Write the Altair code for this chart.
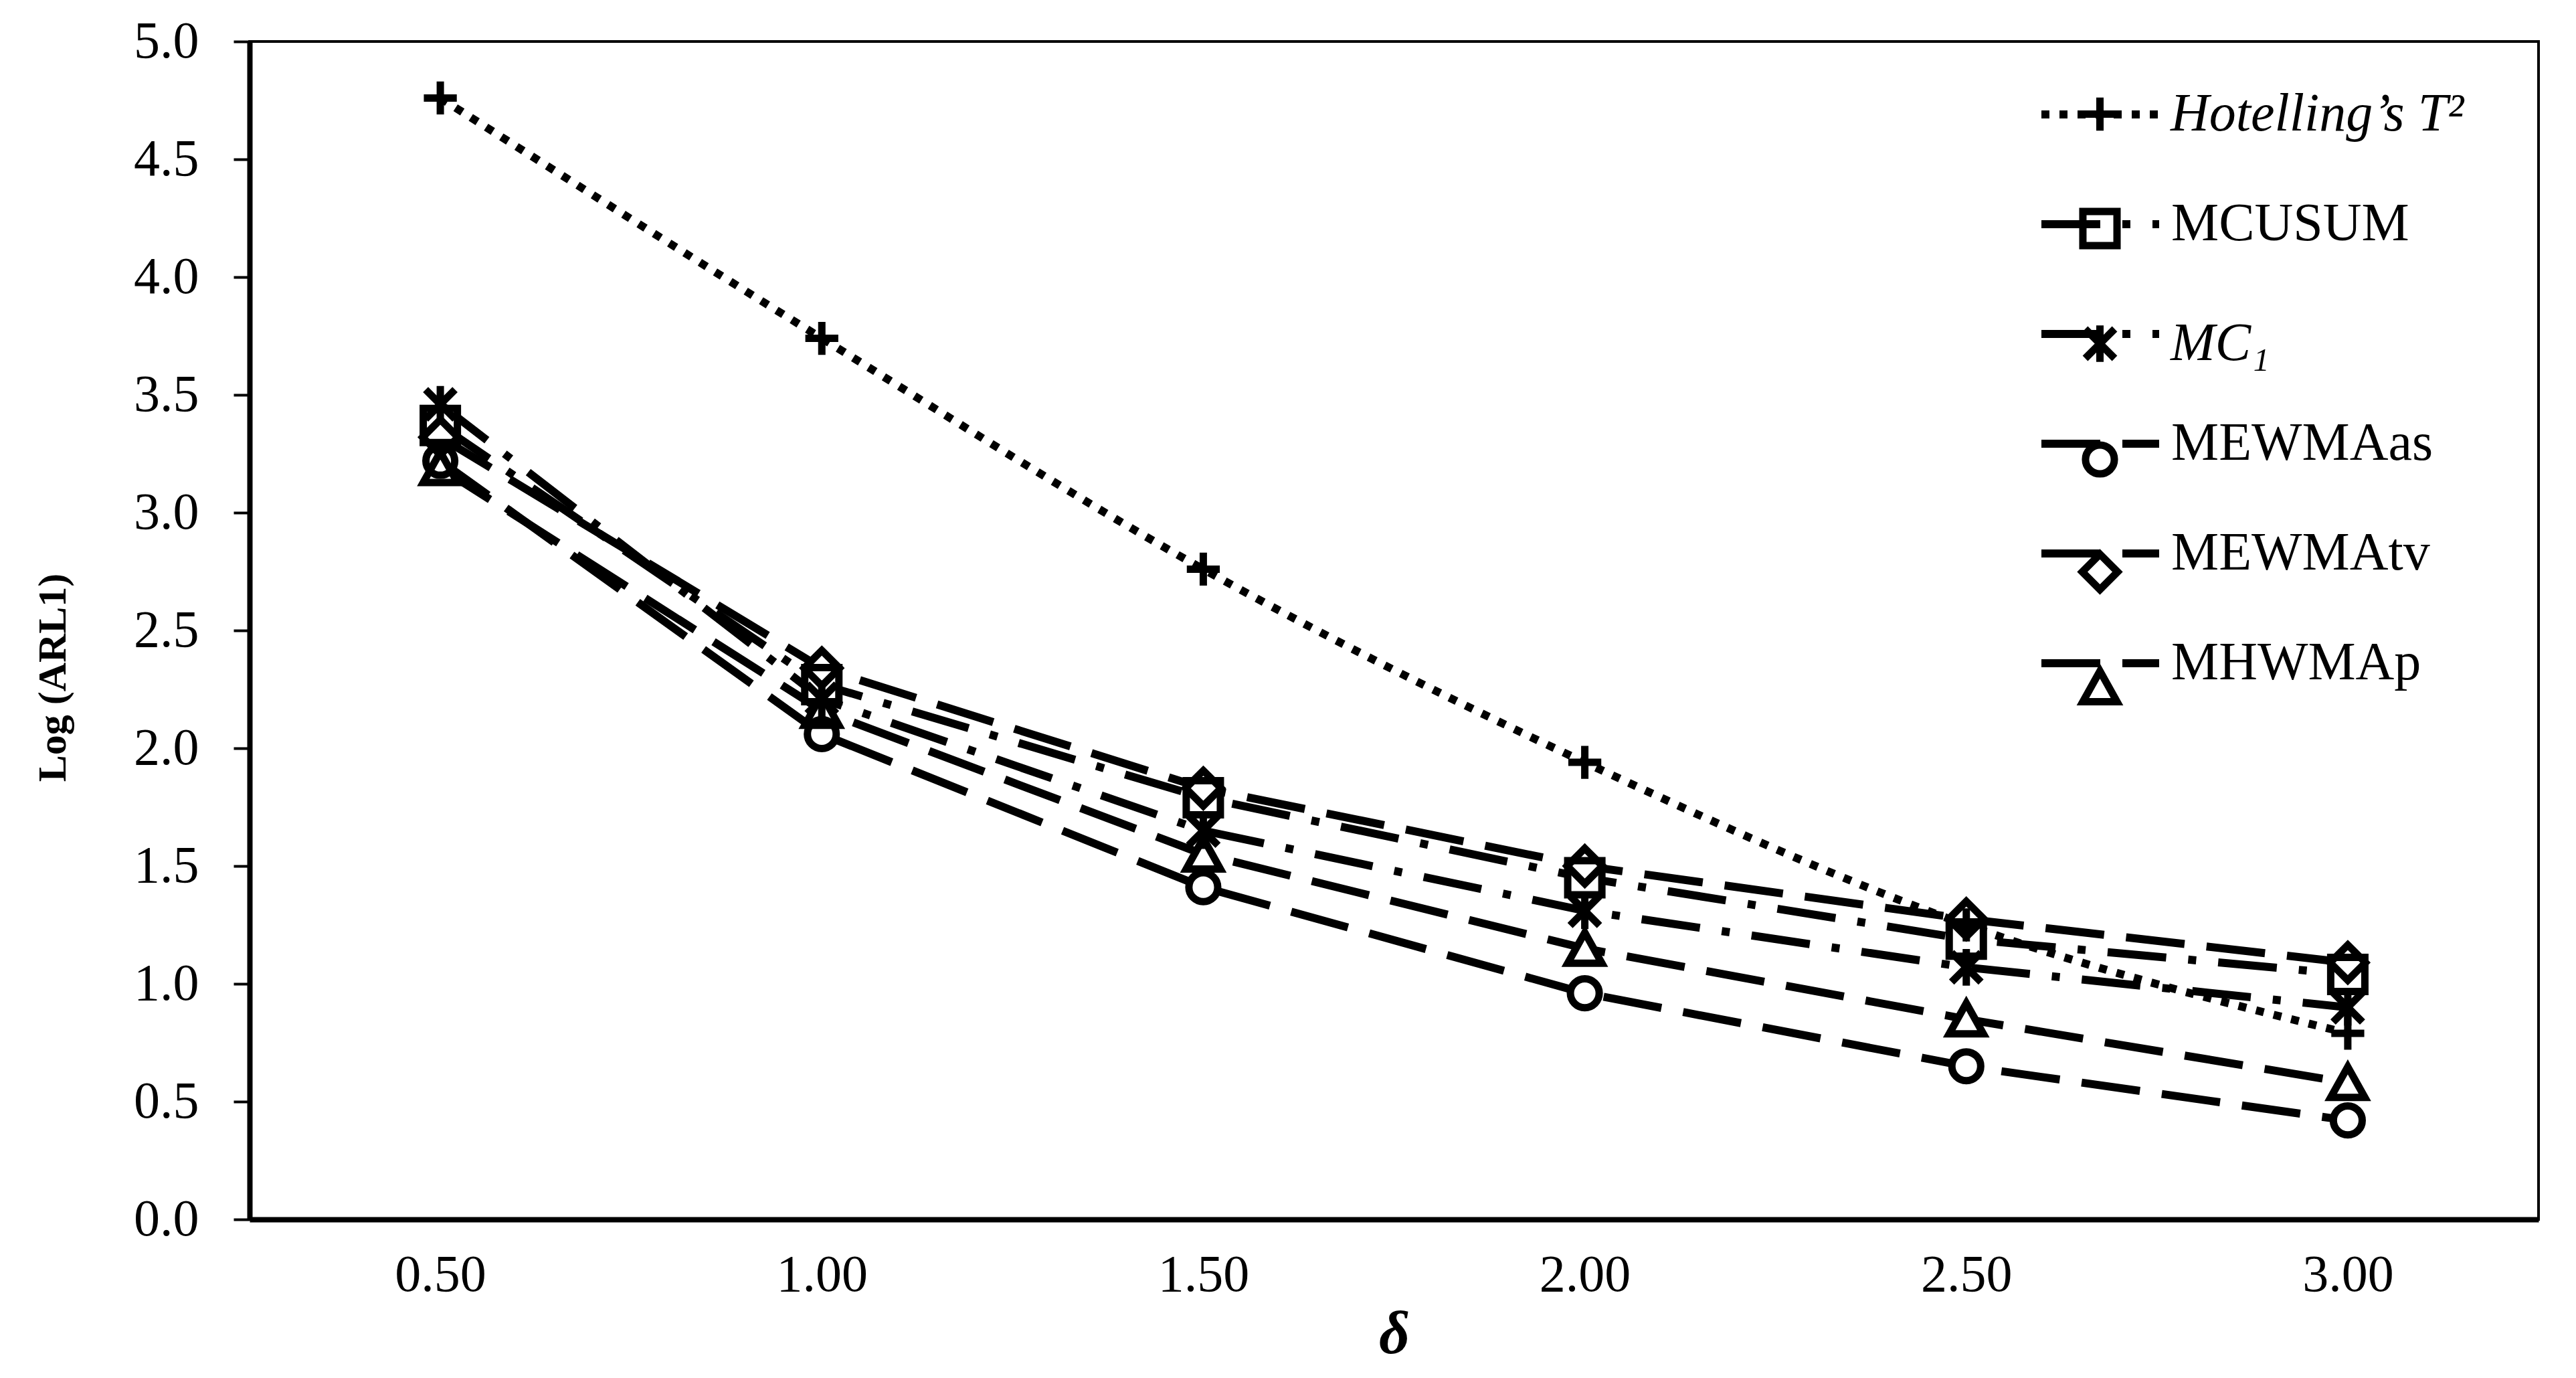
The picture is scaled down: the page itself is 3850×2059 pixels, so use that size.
import altair as alt
import pandas as pd

# ---- data ----
delta = [0.5, 1.0, 1.5, 2.0, 2.5, 3.0]
series_names = ["Hotelling’s T²", "MCUSUM", "MC₁", "MEWMAas", "MEWMAtv", "MHWMAp"]
marker_codes = ["m0", "m1", "m2", "m3", "m4", "m5"]
fill_codes = ["f0", "f1", "f2", "f3", "f4", "f5"]
italic_names = ["Hotelling’s T²", "MC₁"]
hotelling = [4.76, 3.74, 2.76, 1.94, 1.25, 0.79]
mcusum = [3.37, 2.27, 1.79, 1.45, 1.19, 1.04]
mc1 = [3.46, 2.21, 1.65, 1.31, 1.07, 0.90]
mewma_as = [3.22, 2.06, 1.41, 0.96, 0.65, 0.42]
mewma_tv = [3.32, 2.34, 1.83, 1.50, 1.275, 1.09]
mhwma_p = [3.19, 2.16, 1.55, 1.15, 0.85, 0.58]
y_ticks = [0.0, 0.5, 1.0, 1.5, 2.0, 2.5, 3.0, 3.5, 4.0, 4.5, 5.0]
x_ticks = [0.5, 1.0, 1.5, 2.0, 2.5, 3.0]

values = [hotelling, mcusum, mc1, mewma_as, mewma_tv, mhwma_p]
rows = []
for name, code, fcode, vals in zip(series_names, marker_codes, fill_codes, values):
    for d, v in zip(delta, vals):
        rows.append({"delta": d, "arl": v, "series": name, "marker": code, "fillkey": fcode})
df = pd.DataFrame(rows)

FONT = "Liberation Serif"

# line styles (dash patterns) and marker glyphs (SVG paths, unit = half the symbol box)
dash_range = [[12, 15], [88, 33, 12, 33], [88, 33, 12, 33], [88, 33], [88, 33], [88, 33]]
shape_range = [
    "M-0.28,0L0.28,0M0,-0.28L0,0.28",
    "M-0.29,-0.29L0.29,-0.29L0.29,0.29L-0.29,0.29Z",
    "M-0.25,-0.25L0.25,0.25M-0.25,0.25L0.25,-0.25M0,-0.31L0,0.31",
    "M-0.245,0A0.245,0.245,0,1,0,0.245,0A0.245,0.245,0,1,0,-0.245,0Z",
    "M0,-0.3L0.3,0L0,0.3L-0.3,0Z",
    "M0,-0.27L0.29,0.25L-0.29,0.25Z",
]
SYMBOL_BOX = 176  # legend line length in px

x_enc = alt.X(
    "delta:Q",
    scale=alt.Scale(domain=[0.25, 3.25], nice=False, zero=False),
    axis=alt.Axis(
        values=x_ticks, format=".2f", ticks=False, labelPadding=44,
        domainWidth=8, domainColor="black", labelFontSize=78, labelFont=FONT,
        labelColor="black", grid=False,
        title="δ", titleFont=FONT, titleFontSize=90, titleFontStyle="italic",
        titleFontWeight="bold", titleColor="black", titleY=172, titleBaseline="middle",
    ),
)
y_enc = alt.Y(
    "arl:Q",
    scale=alt.Scale(domain=[0, 5], nice=False, zero=True),
    axis=alt.Axis(
        values=y_ticks, format=".1f", tickSize=24, tickWidth=4, tickColor="black",
        labelPadding=52, domainWidth=8, domainColor="black", labelFontSize=78,
        labelFont=FONT, labelColor="black", grid=False,
        title="Log (ARL1)", titleFont=FONT, titleFontSize=60, titleFontWeight="bold",
        titleColor="black", titleX=-294, titleY=950, titleAlign="center",
        titleBaseline="middle", titleLimit=3000,
    ),
)

# upright names are written by the line legend, italic names by the marker legend
upright_list = "[" + ",".join("'" + n + "'" for n in series_names if n not in italic_names) + "]"
dash_label_expr = "indexof(" + upright_list + ", datum.label) >= 0 ? datum.label : ' '"
shape_label_expr = (
    "datum.label == '" + marker_codes[0] + "' ? '" + series_names[0] + "' : "
    "datum.label == '" + marker_codes[2] + "' ? '" + series_names[2] + "' : ' '"
)

LEG_X, LEG_Y, ROW_PAD, LAB_OFF = 2672, 15, 30, 12

dash_legend = alt.Legend(
    title=None, orient="none", legendX=LEG_X, legendY=LEG_Y,
    symbolType="stroke", symbolSize=SYMBOL_BOX * SYMBOL_BOX, symbolStrokeWidth=12,
    symbolStrokeColor="black",
    labelFont=FONT, labelFontSize=80, labelColor="black", labelOffset=LAB_OFF,
    labelLimit=2000, rowPadding=ROW_PAD, labelExpr=dash_label_expr,
)
shape_legend = alt.Legend(
    title=None, orient="none", legendX=LEG_X, legendY=LEG_Y,
    symbolSize=SYMBOL_BOX * SYMBOL_BOX, symbolStrokeWidth=11,
    labelFont=FONT, labelFontSize=80, labelColor="black", labelOffset=LAB_OFF,
    labelFontStyle="italic", labelLimit=2000, rowPadding=ROW_PAD,
    labelExpr=shape_label_expr,
)

dash_scale = alt.Scale(domain=series_names, range=dash_range)

base = alt.Chart(df)

hot_line = base.transform_filter(
    alt.datum.series == series_names[0]
).mark_line(color="black", strokeWidth=12, interpolate="monotone").encode(
    x=x_enc, y=y_enc,
    strokeDash=alt.StrokeDash("series:N", scale=dash_scale, legend=dash_legend),
)
other_lines = base.transform_filter(
    alt.datum.series != series_names[0]
).mark_line(color="black", strokeWidth=12).encode(
    x=x_enc, y=y_enc,
    strokeDash=alt.StrokeDash("series:N", scale=dash_scale, legend=dash_legend),
)
# white interior of the markers (no legend)
marker_fill = base.mark_point(
    filled=True, color="white", opacity=1, size=SYMBOL_BOX * SYMBOL_BOX,
).encode(
    x=x_enc, y=y_enc,
    shape=alt.Shape("fillkey:N", scale=alt.Scale(domain=fill_codes, range=shape_range), legend=None),
)
# black marker outlines (with legend)
marker_outline = base.mark_point(
    filled=False, color="black", strokeWidth=11, opacity=1,
    size=SYMBOL_BOX * SYMBOL_BOX,
).encode(
    x=x_enc, y=y_enc,
    shape=alt.Shape("marker:N", scale=alt.Scale(domain=marker_codes, range=shape_range), legend=shape_legend),
)

chart = alt.layer(hot_line, other_lines, marker_fill, marker_outline).resolve_scale(
    shape="independent"
).resolve_legend(
    shape="independent"
).properties(
    width=3421, height=1760,
    autosize=alt.AutoSizeParams(type="none"),
    padding={"left": 365, "top": 54, "right": 40, "bottom": 225},
    background="white",
).configure_view(stroke="black", strokeWidth=4)

chart.save("out.html", embed_options={"renderer": "svg", "actions": False})
